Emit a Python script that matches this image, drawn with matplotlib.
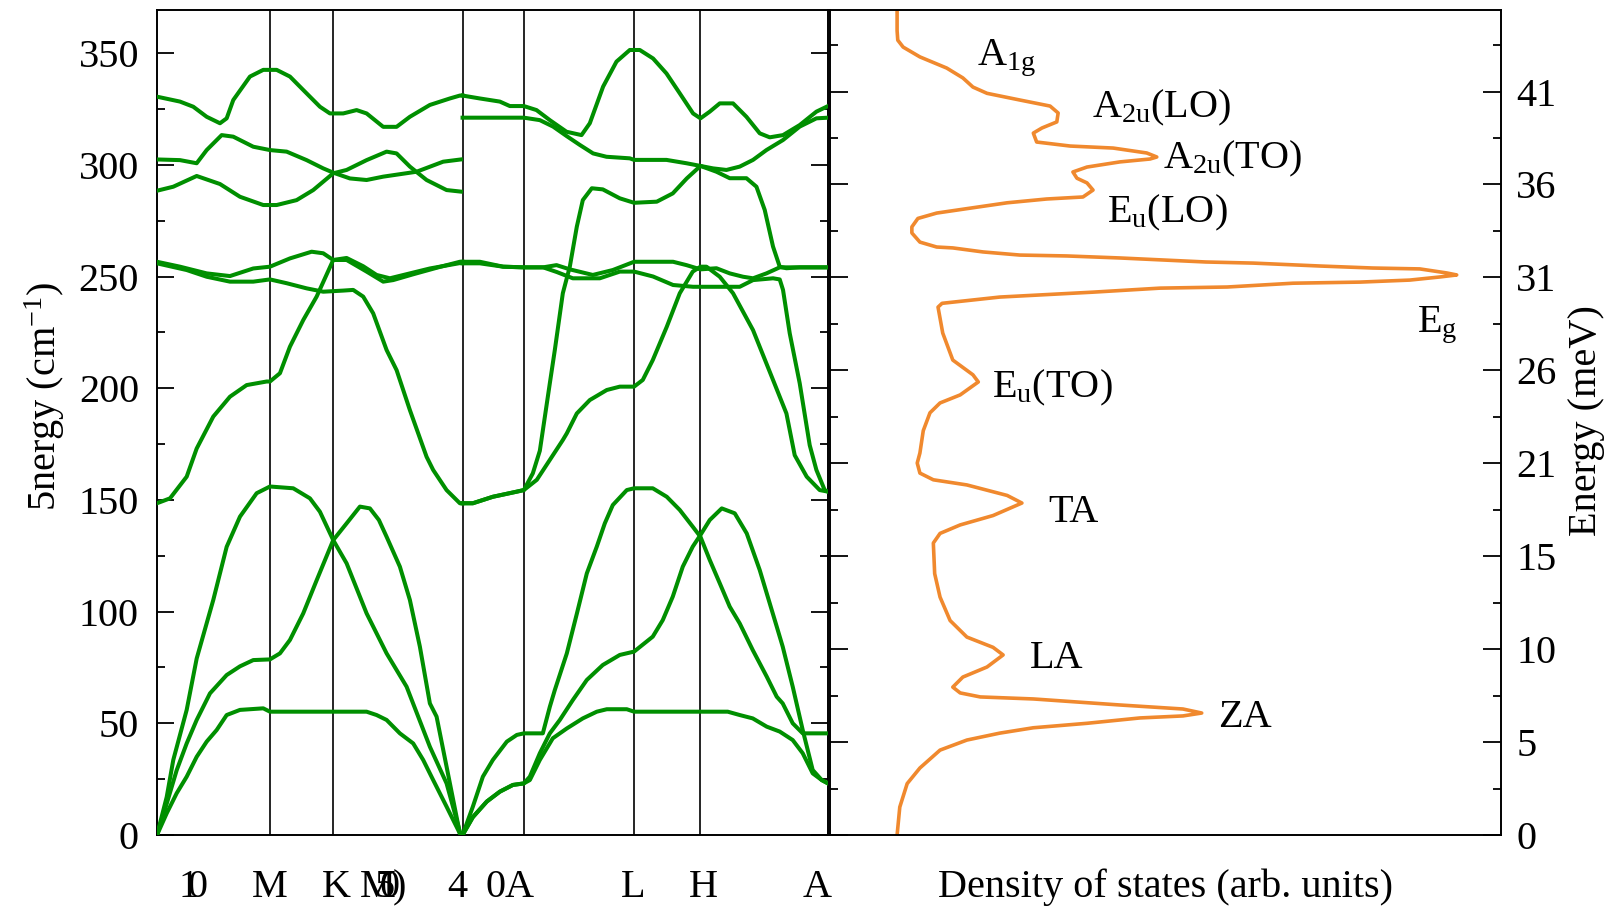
import matplotlib
matplotlib.use('Agg')
import matplotlib.pyplot as plt
from matplotlib.transforms import blended_transform_factory
import numpy as np

plt.rcParams['font.family'] = ['Liberation Serif', 'DejaVu Serif']
plt.rcParams['mathtext.fontset'] = 'custom'
plt.rcParams['mathtext.rm'] = 'Liberation Serif'
plt.rcParams['mathtext.default'] = 'regular'
plt.rcParams['font.size'] = 29

GREEN = '#008f00'
ORANGE = '#f0892e'

# high-symmetry points along the path (M, K, G, A, L, H) and path end
sym_x = [113, 176.3, 305.7, 367, 477.3, 543.7]
x_end = 671.3
e_max = 369.3

# --- G-M-K-G branches (x, energy in cm-1) ---
s1_za = [(0, 0), (9.7, 9.7), (19.7, 18.7), (29.7, 26.1), (39.7, 35), (49.7, 41.8), (59.7, 47),
         (69.7, 53.7), (83, 56), (106.3, 56.7), (113, 55.2), (209.7, 55.2), (219.7, 53.7),
         (229.7, 51.5), (243, 45.5), (256.3, 41), (266.3, 33.6), (276.3, 24.6), (289.7, 12.7),
         (303, 0.7), (305.7, 0)]
s1_ta = [(0, 0), (9.7, 14), (19.7, 29), (29.7, 41), (39.7, 51.5), (53, 63.4), (69.7, 71.6),
         (83, 75.5), (96.3, 78.3), (113, 78.6), (123, 81.3), (133, 87.3), (146.3, 99.2),
         (159.7, 114), (176.3, 132), (189.7, 139.5), (203, 147), (213, 146.2), (222, 141),
         (229.7, 133.5), (243, 120.1), (253, 105.2), (263, 84.3), (273, 58.9), (279.7, 53),
         (289.7, 30.6), (303, 0.7), (305.7, 0)]
s1_la = [(0, 0), (9.7, 17), (16.3, 33.6), (29.7, 56), (39.7, 79), (56.3, 105.2), (69.7, 129),
         (83, 142.5), (99.7, 153), (113, 156), (136.3, 155.2), (153, 150.7), (163, 144.7),
         (176.3, 132), (189.7, 121.6), (209.7, 99.2), (229.7, 81.3), (249.7, 66.4), (273, 39.5),
         (289.7, 23.1), (303, 1.5), (305.7, 0)]
s1_o1 = [(0, 148.5), (13, 150.7), (29.7, 160.4), (39.7, 173), (56.3, 187.3), (73, 196.2),
         (89.7, 201.4), (109.7, 203), (113, 203), (123, 206.7), (133, 218.6), (146.3, 230.5),
         (159.7, 241), (176.3, 257.4), (189.7, 258.3), (206.3, 254.6), (219.7, 250.7),
         (233, 249.2), (253, 251.4), (273, 253.6), (303, 256), (305.7, 256)]
s1_o2 = [(0, 255.9), (29.7, 252.9), (49.7, 249.9), (73, 247.7), (96.3, 247.7), (113, 248.7),
         (129.7, 247), (149.7, 244.7), (166.3, 243.2), (186.3, 243.7), (196.3, 244),
         (206.3, 241), (216.3, 233.5), (229.7, 217.1), (239.7, 208.1), (253, 190.2),
         (269.7, 169.3), (276.3, 163.4), (289.7, 154.4), (303, 148.5), (305.7, 148.5)]
s1_o3 = [(0, 256.6), (23, 254.4), (49.7, 251.4), (73, 250.2), (96.3, 253.6), (113, 254.4),
         (133, 258.1), (154.7, 261.1), (166.3, 260.4), (176.3, 257.4), (189.7, 257.4),
         (209.7, 252.2), (226.3, 247.7), (236.3, 248.4), (256.3, 251), (283, 254.3),
         (303, 256.6), (305.7, 256.6)]
s1_o4 = [(0, 302.4), (23, 302.1), (39.7, 300.7), (49.7, 306.6), (64.7, 313.3), (76.3, 312.6),
         (96.3, 308.1), (113, 306.6), (129.7, 305.9), (149.7, 302.1), (166.3, 298.4),
         (176.3, 296.5), (193, 293.9), (209.7, 293.2), (226.3, 294.7), (259.7, 296.9),
         (286.3, 301.4), (304, 302.4)]
s1_o5 = [(0, 288.4), (16.3, 290.2), (39.7, 295), (63, 291.4), (83, 285.7), (106.3, 282),
         (119.7, 282), (139.7, 284.2), (156.3, 288.7), (176.3, 296.2), (189.7, 297.7),
         (209.7, 302.1), (229.7, 305.9), (239.7, 305.1), (253, 299.2), (269.7, 293.2),
         (289.7, 288.7), (304, 288)]
s1_o6 = [(0, 330.5), (23, 328.3), (36.3, 326), (49.7, 321.5), (63, 318.6), (69.7, 320.8),
         (76.3, 329), (93, 339.5), (106.3, 342.5), (119.7, 342.5), (133, 339.5), (146.3, 333.5),
         (163, 326), (173, 323), (186.3, 323), (199.7, 324.5), (209.7, 323), (226.3, 317),
         (239.7, 317), (253, 321.5), (273, 326.8), (293, 329.7), (303, 331), (305.7, 331)]

# --- G-A-L-H-A branches ---
s2_za = [(305.7, 0), (316, 8), (330, 15), (343, 19.4), (356, 22.4), (367, 23.1), (373, 24.6),
         (383, 33.6), (396, 43.3), (410, 47.7), (426, 52.2), (440, 55.2), (450, 56.3),
         (470, 56.3), (477.3, 55.2), (571, 55.2), (583, 53.7), (596, 52.2), (610, 48.5),
         (623, 46.3), (636, 42.5), (646, 36.6), (656, 27.6), (665, 24.6), (671.3, 23.1)]
s2_ta = [(305.7, 0), (316, 8), (330, 15), (343, 19.4), (356, 22.4), (367, 23.1), (373, 26.1),
         (383, 36.6), (393, 45.5), (403, 51.5), (416, 60.4), (430, 69.4), (446, 76.1),
         (463, 80.6), (477.3, 82.1), (496, 88.8), (506, 96.2), (516, 106.7), (526, 120.1),
         (536, 129.1), (543.7, 134.3), (553, 141), (565, 146.2), (578, 144), (590, 135),
         (603, 118.6), (620, 93.3), (626, 84.3), (636, 66.4), (646, 47), (656, 29.1),
         (665, 24.6), (671.3, 23.1)]
s2_la = [(305.7, 0), (316, 12.7), (326, 26.1), (336, 33.6), (350, 41.8), (360, 44.8),
         (367, 45.5), (386, 45.5), (393, 57.4), (398, 64.9), (410, 81.3), (420, 99),
         (430, 117.1), (440, 129.1), (448, 139.5), (456, 147.7), (470, 154.4), (477.3, 155.2),
         (496, 155.2), (510, 151.4), (523, 145.5), (536, 138), (543.7, 133.5), (553, 123.1),
         (563, 112.7), (573, 102.2), (583, 94.7), (596, 82.8), (610, 70.9), (620, 61.9),
         (626, 58.9), (636, 50), (646, 45.5), (671.3, 45.5)]
s2_o1 = [(305.7, 148.5), (316, 148.5), (336, 151.4), (360, 153.7), (367, 154.4), (380, 159),
         (393, 167.9), (406, 176.8), (410, 179.8), (420, 188.7), (433, 194.7), (450, 199.2),
         (463, 200.7), (477.3, 200.7), (486, 203.7), (496, 212.6), (510, 227.5), (523, 242.5),
         (536, 252.2), (543.7, 254.4), (549.7, 254.4), (563, 249.9), (576.3, 242.5),
         (596.3, 226), (616.3, 203.7), (629.7, 188.7), (638, 170), (650, 160.4), (663, 154.4),
         (671.3, 153.7)]
s2_o2 = [(305.7, 148.5), (316, 148.5), (336, 151.4), (360, 153.7), (367, 154.4), (376, 161.9),
         (383, 172), (393, 202.2), (398, 217.1), (406, 242.5), (413, 254.4), (420, 272.3),
         (426, 284.2), (435, 289.5), (446, 289), (463, 285), (477.3, 283), (500, 283.5),
         (516, 287.2), (530, 293.9), (543.7, 299.5), (556.3, 298.4), (569.7, 297.7),
         (583, 299.2), (596.3, 302.2), (609.7, 306.6), (626.3, 311.1), (643, 317.1),
         (659.7, 320.8), (671.3, 321.1)]
s2_o3 = [(305.7, 256.6), (323, 256.6), (346.3, 254.4), (367, 254.1), (386.3, 254.1),
         (399.7, 255.1), (413, 253.2), (436, 250.7), (456, 252.9), (477.3, 256.6),
         (516.3, 256.6), (529.7, 255.1), (543.7, 253.2), (559.7, 253.7), (573, 251.4),
         (586.3, 249.9), (596.3, 249.2), (609.7, 251.4), (623, 254.1), (671.3, 254.1)]
s2_o4 = [(305.7, 255.9), (323, 255.9), (346.3, 254.4), (367, 254.1), (386.3, 254.1),
         (400, 252), (416, 249.2), (443, 249.2), (463, 252.2), (477.3, 252.2), (496.3, 250),
         (516.3, 246.2), (536.3, 245.4), (583, 245.4), (596.3, 248.4), (616.3, 249.2),
         (623, 248.7), (626.3, 244), (633, 224.6), (643, 202.2), (653, 174.5), (659.7, 163.4),
         (668, 154.4), (671.3, 153.7)]
s2_o5 = [(305.7, 321.1), (367, 321.1), (383, 320), (396.3, 317.1), (409.7, 312.9),
         (423, 308.9), (436.3, 305.1), (449.7, 303.6), (473, 302.9), (477.3, 302.2),
         (509.7, 302.2), (529.7, 300.7), (543.7, 299.5), (559.7, 296.9), (573, 294),
         (589.7, 294), (599.7, 290.2), (608, 279.8), (616.3, 263.4), (623, 254.4),
         (629.7, 253.7), (643, 254.1), (671.3, 254.1)]
s2_o6 = [(305.7, 331), (323, 329.7), (343, 328.3), (353, 326.3), (367, 326.3), (379.7, 324.5),
         (393, 320), (409.7, 314.8), (424.7, 313.3), (433, 318.6), (446.3, 335), (459.7, 346.2),
         (473, 351.4), (483, 351.4), (496.3, 347.6), (509.7, 340.9), (523, 332), (536.3, 323),
         (543.7, 320.8), (553, 323.8), (563, 327.5), (576.3, 327.5), (589.7, 321.5),
         (603, 314.1), (613, 312.3), (626.3, 313.3), (643, 317.8), (659.7, 323.8),
         (671.3, 326.3)]

bands = [s1_za, s1_ta, s1_la, s1_o1, s1_o2, s1_o3, s1_o4, s1_o5, s1_o6,
         s2_za, s2_ta, s2_la, s2_o1, s2_o2, s2_o3, s2_o4, s2_o5, s2_o6]

# --- phonon density of states (energy in cm-1, value in arb. units) ---
dos_e = [0, 12.5, 23, 30, 38, 42.5, 45.6, 48, 50, 52.4, 53.3, 54.6, 56.4, 58.2, 60.9, 61.8,
         63.6, 66.2, 70.7, 75.2, 80.6, 84, 88.6, 96, 106.5, 117, 130.7, 135, 138.8, 143,
         148.6, 152, 156.7, 159, 162, 166.5, 171, 181, 189, 193.4, 197, 202.8, 206, 212.6,
         224.7, 236.3, 238, 240.8, 243, 244.8, 245.3, 247, 247.5, 248.4, 249.8, 250.7, 251.6,
         253.4, 253.8, 254.7, 256, 256.5, 258.3, 259.2, 259.6, 261, 262.8, 263.2, 265.4,
         269.5, 272.2, 276, 278.4, 280.6, 283, 284.7, 285.6, 288.7, 291.9, 294, 296.8, 299,
         301.3, 302.6, 303.5, 305.3, 307.5, 308.4, 310.2, 314.2, 316.5, 319.2, 323.2, 326.3,
         329, 332, 334.8, 338.9, 343.3, 348.3, 352.7, 355.8, 360, 369.3]
dos_val = [0.100, 0.104, 0.115, 0.134, 0.164, 0.204, 0.253, 0.303, 0.383, 0.462, 0.526, 0.554,
           0.526, 0.432, 0.303, 0.224, 0.194, 0.183, 0.198, 0.234, 0.258, 0.243, 0.204, 0.179,
           0.164, 0.156, 0.154, 0.164, 0.194, 0.243, 0.286, 0.264, 0.204, 0.154, 0.134, 0.130,
           0.134, 0.139, 0.149, 0.164, 0.194, 0.221, 0.213, 0.183, 0.168, 0.161, 0.167, 0.253,
           0.392, 0.492, 0.592, 0.690, 0.790, 0.864, 0.909, 0.934, 0.919, 0.879, 0.809, 0.730,
           0.631, 0.560, 0.432, 0.353, 0.283, 0.228, 0.183, 0.159, 0.134, 0.122, 0.122, 0.131,
           0.159, 0.209, 0.264, 0.323, 0.377, 0.392, 0.383, 0.368, 0.362, 0.383, 0.432, 0.477,
           0.487, 0.472, 0.422, 0.358, 0.308, 0.303, 0.316, 0.338, 0.340, 0.328, 0.283, 0.234,
           0.213, 0.198, 0.174, 0.134, 0.109, 0.101, 0.100, 0.100]

# mode labels: text, x (arb.), baseline energy (cm-1)
mode_text = ['A$_{1g}$', 'A$_{2u}$(LO)', 'A$_{2u}$(TO)', 'E$_u$(LO)', 'E$_g$', 'E$_u$(TO)',
             'TA', 'LA', 'ZA']
mode_x = [0.219, 0.390, 0.496, 0.413, 0.875, 0.241, 0.325, 0.298, 0.578]
mode_e = [344.7, 321.0, 298.6, 274.4, 225.2, 196.0, 140.1, 74.8, 48.3]

# labels under the dispersion panel (as printed)
path_text = ['1', '0', 'M', 'K', 'M', '5', '0', ')', '4', '0A', 'L', 'H', 'A']
path_pos = [32, 41, 113, 179.5, 220.5, 228, 233, 242, 300, 353, 476.5, 547, 660.5]

mev_labels = ['0', '5', '10', '15', '21', '26', '31', '36', '41']
mev_step = 41.6  # tick spacing in cm-1

W, H = 1617, 907
fig = plt.figure(figsize=(W / 100, H / 100), dpi=100)
ax = fig.add_axes([157 / W, (H - 835) / H, (828 - 157) / W, 825 / H])
ax2 = fig.add_axes([830 / W, (H - 835) / H, (1501 - 830) / W, 825 / H])

for b in bands:
    xs, es = np.array(b).T
    ax.plot(xs, es, color=GREEN, lw=2.9, solid_joinstyle='round', zorder=3)
for x in sym_x:
    ax.axvline(x, color='black', lw=1.2, zorder=2)

ax.set_xlim(0, x_end)
ax.set_ylim(0, e_max)
ax.set_xticks([])
ax.set_yticks(np.arange(0, 351, 50))
ax.set_yticks(np.arange(25, 351, 50), minor=True)
ax.tick_params(axis='y', which='both', direction='in', left=True, right=True, width=1.3,
               pad=13, labelsize=29)
ax.tick_params(axis='y', which='major', length=12)
ax.tick_params(axis='y', which='minor', length=6)
for s in ax.spines.values():
    s.set_linewidth(1.4)

tr = blended_transform_factory(ax.transData, fig.transFigure)
for t, x in zip(path_text, path_pos):
    ax.text(x, (H - 897) / H, t, transform=tr, ha='center', va='baseline', fontsize=29)

fig.text(45 / W, 1 - 396 / H, '5nergy (cm$^{-1}$)', rotation=90, ha='center', va='center',
         fontsize=29)

# density of states
ax2.plot(dos_val, dos_e, color=ORANGE, lw=2.6, solid_joinstyle='round')
ax2.set_xlim(0, 1)
ax2.set_ylim(0, e_max)
ax2.set_xticks([])
mev_pos = [i * mev_step for i in range(len(mev_labels))]
ax2.set_yticks(mev_pos)
ax2.set_yticklabels(mev_labels)
ax2.set_yticks([p + mev_step / 2 for p in mev_pos], minor=True)
ax2.yaxis.tick_right()
ax2.tick_params(axis='y', which='both', direction='in', right=True, left=True, width=1.3,
                pad=11, labelsize=29, labelleft=False, labelright=True)
ax2.tick_params(axis='y', which='major', length=13)
ax2.tick_params(axis='y', which='minor', length=6)
for s in ax2.spines.values():
    s.set_linewidth(1.4)

for t, x, e in zip(mode_text, mode_x, mode_e):
    ax2.text(x, e, t, ha='left', va='baseline', fontsize=29)

ax2.text(0.5, (H - 897) / H, 'Density of states (arb. units)', ha='center', va='baseline',
         transform=blended_transform_factory(ax2.transAxes, fig.transFigure), fontsize=29)
fig.text(1586 / W, 1 - 421 / H, 'Energy (meV)', rotation=90, ha='center', va='center',
         fontsize=29)

fig.savefig('out.png', dpi=100)
